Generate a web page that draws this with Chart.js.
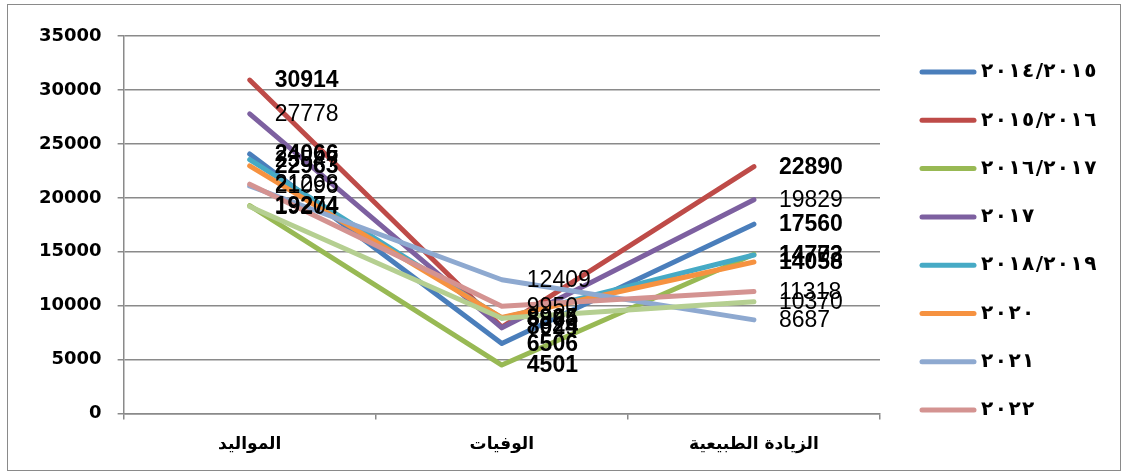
<!DOCTYPE html>
<html>
<head>
<meta charset="utf-8">
<script src="https://cdn.jsdelivr.net/npm/chart.js@4"></script>
<style>
  body { margin: 0; background: #fff; }
  #box { position: absolute; left: 7px; top: 4px; width: 1112px; height: 465px; border: 1px solid #8a8a8a; }
  canvas { display: block; }
</style>
</head>
<body>
<div id="box"><canvas id="popChart" width="1112" height="465"></canvas></div>
<script>
// categories on the x axis
const categories = ['المواليد', 'الوفيات', 'الزيادة الطبيعية'];
// one entry per series (year)
const seriesNames = ['٢٠١٤/٢٠١٥', '٢٠١٥/٢٠١٦', '٢٠١٦/٢٠١٧', '٢٠١٧', '٢٠١٨/٢٠١٩', '٢٠٢٠', '٢٠٢١', '٢٠٢٢', '٢٠٢٣'];
const births = [24066, 30914, 19274, 27778, 23547, 22963, 21096, 21268, 19204];
const deaths = [6506, 8024, 4501, 7949, 8845, 8905, 12409, 9950, 8834];
const naturalIncrease = [17560, 22890, 14773, 19829, 14702, 14058, 8687, 11318, 10370];
const yTicks = [0, 5000, 10000, 15000, 20000, 25000, 30000, 35000];

const colors = ['#4A7EBB', '#BE4B48', '#98B954', '#7D60A0', '#46AAC5', '#F69240', '#8EA9D0', '#D49391', '#B5CF91'];
const boldLabels = [true, true, true, false, false, true, false, false, false];
const legendCount = 8; // last series is cut off in the legend

const datasets = seriesNames.map((name, i) => ({
  label: name,
  data: [births[i], deaths[i], naturalIncrease[i]],
  borderColor: colors[i],
  backgroundColor: colors[i],
  borderWidth: 5,
  borderCapStyle: 'round',
  borderJoinStyle: 'round',
  pointRadius: 0,
  pointHoverRadius: 0,
  tension: 0,
  order: -i // later series on top, like the original
}));

// value labels to the right of every point
const valueLabels = {
  id: 'valueLabels',
  afterDatasetsDraw(chart) {
    const ctx = chart.ctx;
    ctx.save();
    ctx.fillStyle = '#000';
    ctx.textAlign = 'left';
    ctx.textBaseline = 'middle';
    chart.data.datasets.forEach((ds, i) => {
      const meta = chart.getDatasetMeta(i);
      ctx.font = (boldLabels[i] ? 'bold ' : '') + '23px "Liberation Sans", Arial, sans-serif';
      meta.data.forEach((pt, j) => {
        ctx.fillText(String(ds.data[j]), pt.x + 25, pt.y + 1);
      });
    });
    ctx.restore();
  }
};

// digits are spaced out one by one, like the wide legend text of the original
function drawSpaced(ctx, text, x, y, gap) {
  for (const ch of text) {
    ctx.fillText(ch, x, y);
    x += ctx.measureText(ch).width + (ch === '/' ? 0 : gap);
  }
}

// legend drawn by hand so it sits where the original has it
const sideLegend = {
  id: 'sideLegend',
  afterDraw(chart) {
    const ctx = chart.ctx;
    ctx.save();
    ctx.font = 'bold 20px "DejaVu Sans", sans-serif';
    ctx.textAlign = 'left';
    ctx.textBaseline = 'middle';
    for (let i = 0; i < legendCount; i++) {
      const y = 67 + i * 48.3;
      ctx.strokeStyle = colors[i];
      ctx.lineWidth = 5;
      ctx.lineCap = 'round';
      ctx.beginPath();
      ctx.moveTo(914, y);
      ctx.lineTo(966, y);
      ctx.stroke();
      ctx.fillStyle = '#000';
      drawSpaced(ctx, seriesNames[i], 973, y, 1.5);
    }
    ctx.restore();
  }
};

new Chart(document.getElementById('popChart'), {
  type: 'line',
  data: { labels: categories, datasets },
  options: {
    responsive: false,
    animation: false,
    layout: { padding: { left: 15, right: 240, top: 31, bottom: 0 } },
    plugins: {
      legend: { display: false },
      tooltip: { enabled: false }
    },
    scales: {
      x: {
        offset: true,
        grid: {
          offset: true,
          drawOnChartArea: false,
          drawTicks: true,
          tickLength: 6,
          color: '#8a8a8a',
          lineWidth: 1.5
        },
        border: { color: '#8a8a8a', width: 1.5 },
        ticks: {
          color: '#000',
          padding: 15,
          font: { family: '"DejaVu Sans", sans-serif', size: 17, weight: 'bold' }
        }
      },
      y: {
        min: 0,
        max: 35000,
        afterBuildTicks(scale) {
          scale.ticks = yTicks.map(v => ({ value: v }));
        },
        grid: {
          color: '#8a8a8a',
          lineWidth: 1.5,
          tickLength: 6
        },
        border: { color: '#8a8a8a', width: 1.5 },
        ticks: {
          color: '#000',
          padding: 16,
          callback: v => String(v),
          font: { family: '"DejaVu Sans", sans-serif', size: 18, weight: 'bold' }
        }
      }
    }
  },
  plugins: [valueLabels, sideLegend]
});
</script>
</body>
</html>
